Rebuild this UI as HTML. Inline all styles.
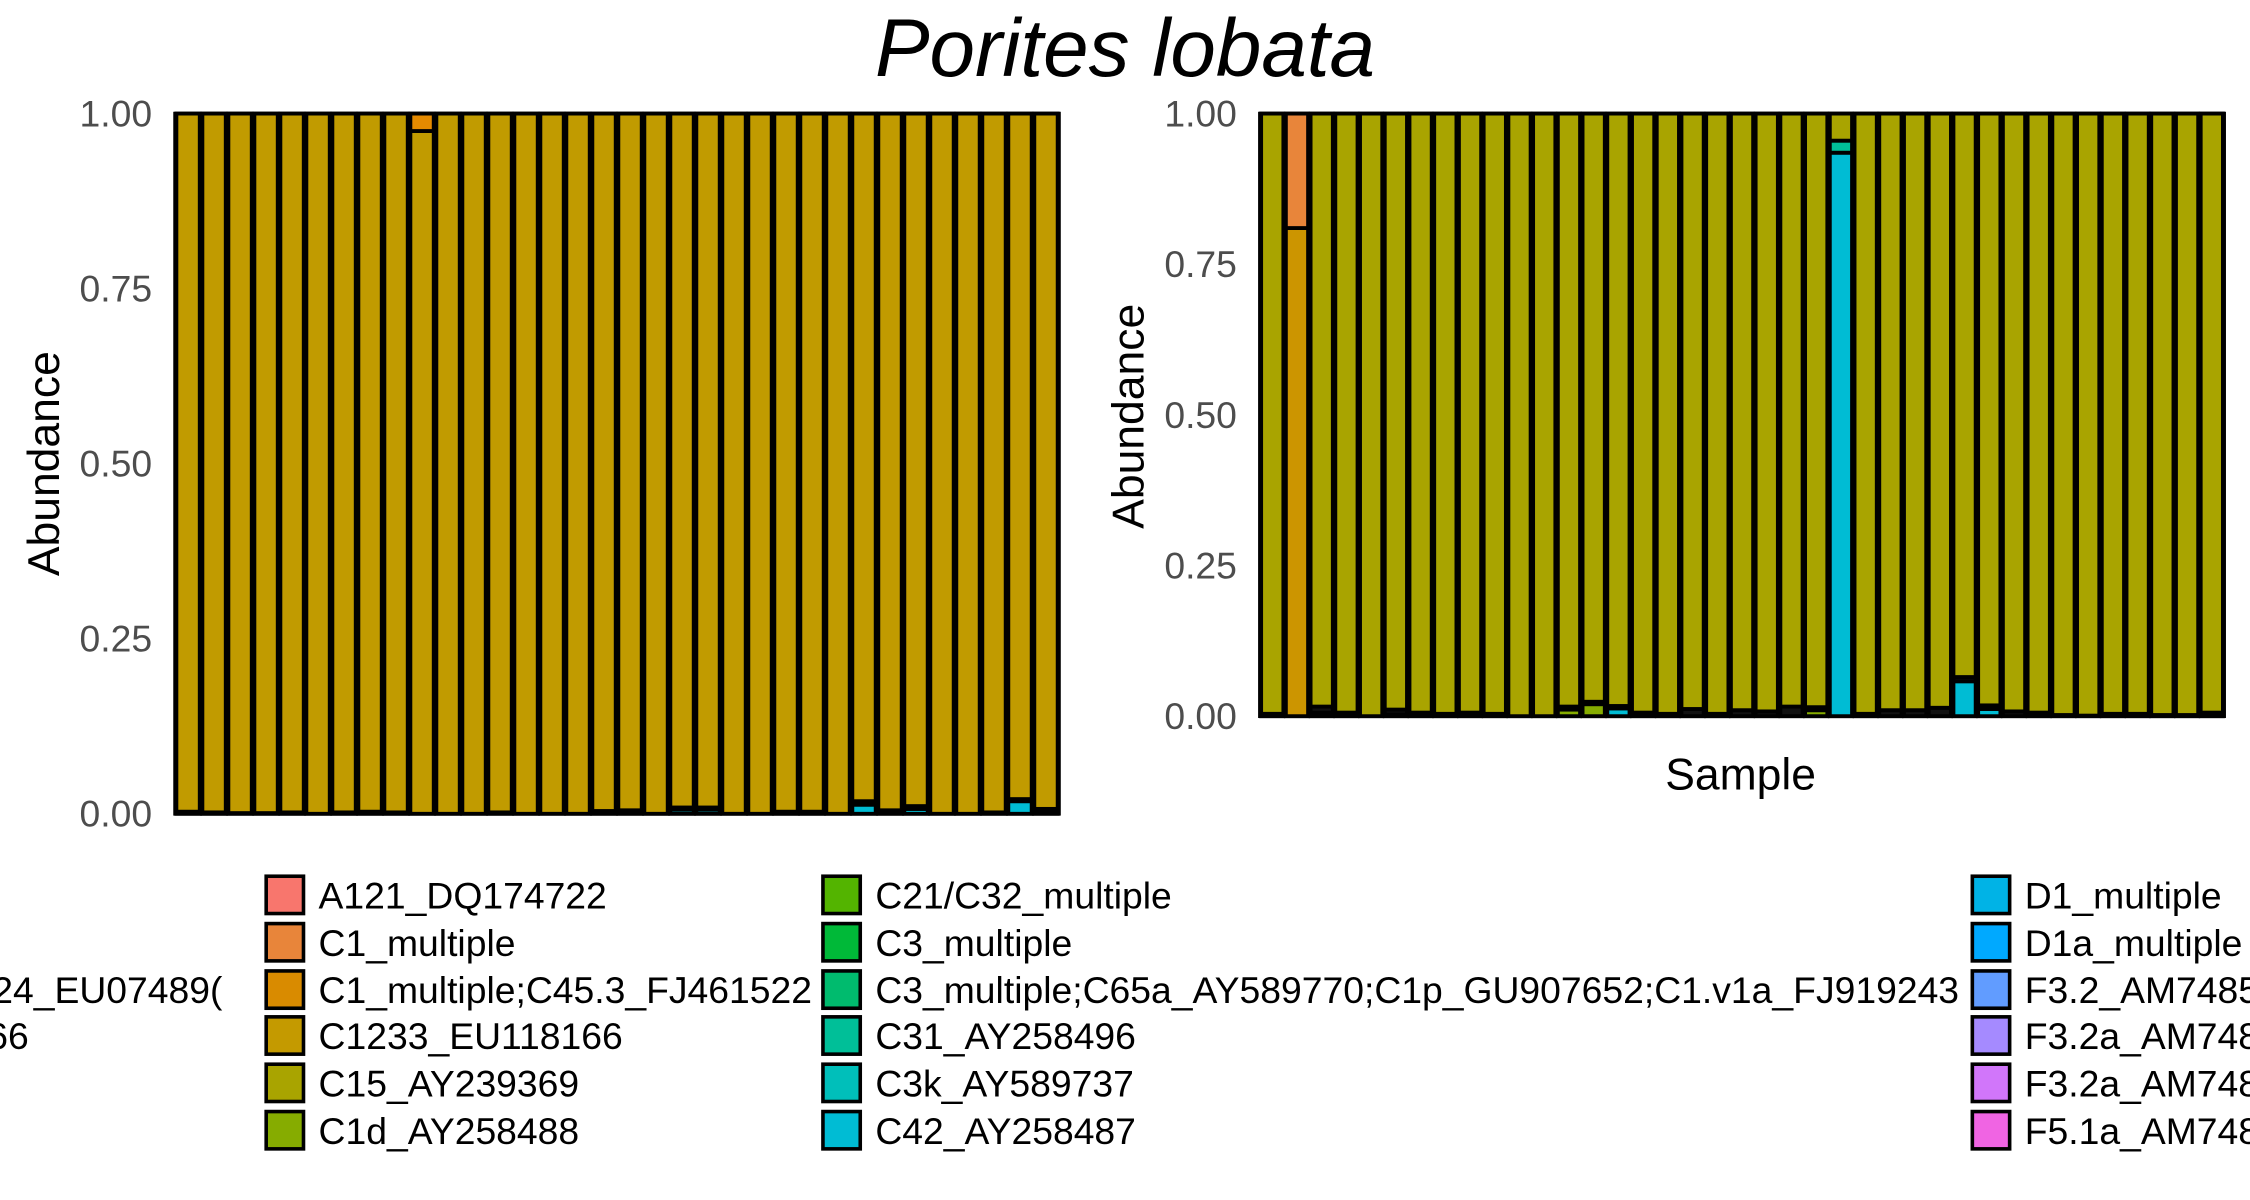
<!DOCTYPE html>
<html><head><meta charset="utf-8"><style>
html,body{margin:0;padding:0;background:#fff;}
svg{display:block;}
text{font-family:"Liberation Sans",sans-serif;}
</style></head><body>
<svg id="chart" width="2250" height="1200" viewBox="0 0 1568 836" xmlns="http://www.w3.org/2000/svg">
<text x="784" y="53" font-size="57" font-style="italic" text-anchor="middle" fill="#000">Porites lobata</text>
<g id="left"></g>
<g id="right"></g>
<text transform="translate(41,323) rotate(-90)" font-size="31" text-anchor="middle" fill="#000">Abundance</text>
<text transform="translate(797,290) rotate(-90)" font-size="31" text-anchor="middle" fill="#000">Abundance</text>
<text x="1213" y="550" font-size="31" text-anchor="middle" fill="#000">Sample</text>
<g id="legend"></g>
</svg>
<script>
// ---- data ----
const ticks = [0, 0.25, 0.5, 0.75, 1];
const tickLabels = ["0.00", "0.25", "0.50", "0.75", "1.00"];
const leftN = 34;
const leftTopOrange = [0,0,0,0,0,0,0,0,0,0.025,0,0,0,0,0,0,0,0,0,0,0,0,0,0,0,0,0,0,0,0,0,0,0,0];
const leftCyan = [0,0,0,0,0,0,0,0,0,0,0,0,0,0,0,0,0,0,0,0.006,0.006,0,0,0,0,0,0.013,0,0.007,0,0,0,0.018,0.004];
const leftMinor = [0.003,0.002,0.001,0.001,0.002,0,0.002,0.003,0.002,0,0,0,0.002,0,0,0,0.004,0.005,0,0.003,0.003,0,0,0.003,0.003,0,0.005,0.005,0.004,0,0,0.002,0.003,0.003];
const rightN = 39;
const rightOrangeTop = [0,0.19,0,0,0,0,0,0,0,0,0,0,0,0,0,0,0,0,0,0,0,0,0,0,0,0,0,0,0,0,0,0,0,0,0,0,0,0,0];
const rightGoldBottom = [0,0.81,0,0,0,0,0,0,0,0,0,0,0,0,0,0,0,0,0,0,0,0,0,0,0,0,0,0,0,0,0,0,0,0,0,0,0,0,0];
const rightCyan = [0,0,0.006,0,0,0.003,0,0,0,0,0,0,0,0,0.013,0,0,0,0,0,0,0,0,0.935,0,0,0,0,0.058,0.012,0,0,0,0,0,0,0,0,0];
const rightTeal = [0,0,0,0,0,0,0,0,0,0,0,0,0,0,0,0,0,0,0,0,0,0,0,0.02,0,0,0,0,0,0,0,0,0,0,0,0,0,0,0];
const rightGreen = [0,0,0,0,0,0,0,0,0,0,0,0,0.011,0.02,0,0,0,0,0,0,0,0,0.01,0,0,0,0,0,0,0,0,0,0,0,0,0,0,0,0];
const rightMinor = [0.004,0,0.01,0.006,0,0.008,0.006,0.004,0.006,0.004,0,0,0.005,0.004,0.004,0.006,0.004,0.012,0.004,0.01,0.008,0.016,0.005,0,0.004,0.01,0.01,0.014,0.007,0.006,0.008,0.006,0.002,0.001,0.004,0.004,0.002,0.002,0.006];
const legendLabels = [
 ["A121_DQ174722","C1_multiple","C1_multiple;C45.3_FJ461522","C1233_EU118166","C15_AY239369","C1d_AY258488"],
 ["C21/C32_multiple","C3_multiple","C3_multiple;C65a_AY589770;C1p_GU907652;C1.v1a_FJ919243","C31_AY258496","C3k_AY589737","C42_AY258487"],
 ["D1_multiple","D1a_multiple","F3.2_AM748557","F3.2a_AM748556","F3.2a_AM748558","F5.1a_AM748561"]];
const legendColors = [
 ["#F8766D","#E8853A","#D98B00","#C49A00","#A9A400","#86AC00"],
 ["#53B400","#00B938","#00BB6E","#00BF98","#00BFBA","#00BCD4"],
 ["#00B3E6","#00A9FF","#619CFF","#A58AFF","#D176FA","#F064E3"]];
const C = {gold:"#C19B00", olive:"#A9A400", orange:"#E58A00", orange2:"#E8853A", gold2:"#CC9500", cyan:"#00BCD4", teal:"#00BF98", green:"#86AC00", minor:"#111"};

const NS="http://www.w3.org/2000/svg";
function mk(tag, attrs, parent){const e=document.createElementNS(NS,tag);for(const k in attrs)e.setAttribute(k,attrs[k]);parent.appendChild(e);return e;}

function panel(g, x0, x1, y0, y1, n, stacksFn, labelX, nm){
  const yScale = v => y1 - v*(y1-y0);
  const band = (x1-x0)/n;
  const xScale = i => x0 + i*band;
  const bg = mk('rect',{x:x0,y:y0,width:x1-x0,height:y1-y0,fill:'#000'},g);
  
  
  for(let i=0;i<n;i++){
    const segs = stacksFn(i);
    let cum=0;
    segs.forEach(s=>{
      if(s.v<=0) return;
      const r = mk('rect',{x:xScale(i)+band*0.05,y:yScale(cum+s.v),width:band*0.9,height:s.v*(y1-y0),fill:s.c,stroke:'#000','stroke-width':2.7},g);
      
      
      cum+=s.v;
    });
  }
  const fr = mk('rect',{x:x0,y:y0,width:x1-x0,height:y1-y0,fill:'none',stroke:'#000','stroke-width':2.5},g);
  
  
  ticks.forEach((t,k)=>{
    const tx = mk('text',{x:labelX,y:yScale(t)+9,'font-size':26,'text-anchor':'end',fill:'#4d4d4d'},g);
    tx.textContent = tickLabels[k];
    
    
  });
}

panel(document.getElementById('left'), 122, 738, 79, 567, leftN, i=>{
  const main = 1 - leftTopOrange[i] - leftCyan[i] - leftMinor[i];
  return [{v:leftCyan[i],c:C.cyan,k:'c42'},{v:leftMinor[i],c:C.minor,k:'minor'},{v:main,c:C.gold,k:'c1233'},{v:leftTopOrange[i],c:C.orange,k:'c1multiple-c45'}];
}, 106, 'left');

panel(document.getElementById('right'), 878, 1550, 79, 499, rightN, i=>{
  const main = 1 - rightOrangeTop[i] - rightGoldBottom[i] - rightCyan[i] - rightTeal[i] - rightGreen[i] - rightMinor[i];
  return [{v:rightCyan[i],c:C.cyan,k:'c42'},{v:rightGreen[i],c:C.green,k:'c1d'},{v:rightMinor[i],c:C.minor,k:'minor'},{v:rightGoldBottom[i],c:C.gold2,k:'c1multiple-c45'},{v:rightTeal[i],c:C.teal,k:'c31'},{v:main,c:C.olive,k:'c15'},{v:rightOrangeTop[i],c:C.orange2,k:'c1multiple'}];
}, 862, 'right');

// legend
const lg = document.getElementById('legend');
const colX = [184, 572, 1373];
const rowY = [609, 642, 675, 707, 740, 773];
legendLabels.forEach((col,ci)=>{
  col.forEach((lab,ri)=>{
    const sw = mk('rect',{x:colX[ci]+1.5,y:rowY[ri]+1.5,width:26,height:26,fill:legendColors[ci][ri],stroke:'#000','stroke-width':2.5},lg);
    
    
    const t = mk('text',{x:colX[ci]+38,y:rowY[ri]+24,'font-size':26,fill:'#000'},lg);
    t.textContent = lab;
    
    
  });
});
const cut1 = mk('text',{x:155,y:699,'font-size':26,'text-anchor':'end',fill:'#000'},lg);
cut1.textContent = "C124_EU07489(";


const cut2 = mk('text',{x:20,y:731,'font-size':26,'text-anchor':'end',fill:'#000'},lg);
cut2.textContent = "C1233_EU118166";


</script>
</body></html>
